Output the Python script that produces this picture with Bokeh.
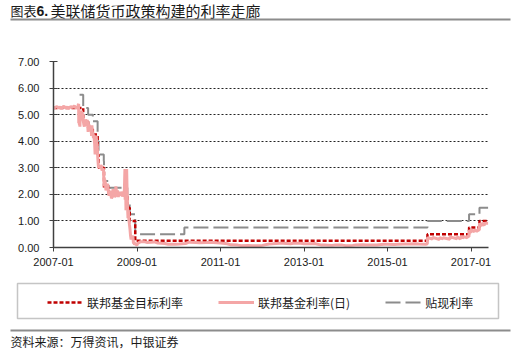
from datetime import datetime
from bokeh.plotting import figure
from bokeh.layouts import column, row
from bokeh.models import (Range1d, FixedTicker, DatetimeTickFormatter, PrintfTickFormatter,
                          Label, BoxAnnotation, Legend, LegendItem)
from bokeh.embed import file_html
from bokeh.resources import INLINE

# ---------------- data ----------------
title_parts = ["图表", "6.", "美联储货币政策构建的利率走廊"]
source_text = "资料来源：万得资讯，中银证券"
y_unit = "(%)"
series_names = ["联邦基金目标利率", "联邦基金利率(日)", "贴现利率"]
x_tick_labels = ["2007-01", "2009-01", "2011-01", "2013-01", "2015-01", "2017-01"]
y_ticks = [0, 1, 2, 3, 4, 5, 6, 7]

target_dates = ["2007-01-01", "2007-09-18", "2007-10-31", "2007-12-11", "2008-01-22",
                "2008-01-30", "2008-03-18", "2008-04-30", "2008-10-08", "2008-10-29",
                "2008-12-16", "2015-12-17", "2016-12-15", "2017-03-16", "2017-05-31"]
target_vals = [5.25, 4.75, 4.50, 4.25, 3.50, 3.00, 2.25, 2.00, 1.50, 1.00,
               0.25, 0.50, 0.75, 1.00, 1.00]

discount_dates = ["2007-08-17", "2007-09-18", "2007-10-31", "2007-12-11", "2008-01-22",
                  "2008-01-30", "2008-03-16", "2008-03-18", "2008-04-30", "2008-10-08",
                  "2008-10-29", "2008-12-16", "2010-02-19", "2015-12-17", "2016-12-15",
                  "2017-03-16", "2017-05-31"]
discount_vals = [5.75, 5.25, 5.00, 4.75, 4.00, 3.50, 3.25, 2.50, 2.25, 1.75,
                 1.25, 0.50, 0.75, 1.00, 1.25, 1.50, 1.50]

effr_dates = ["2007-01-02", "2007-01-16", "2007-02-01", "2007-02-15", "2007-03-01", "2007-03-15",
              "2007-04-02", "2007-04-16", "2007-05-01", "2007-05-15", "2007-06-01", "2007-06-15",
              "2007-07-02", "2007-07-16", "2007-08-01", "2007-08-06", "2007-08-09", "2007-08-10",
              "2007-08-13", "2007-08-14", "2007-08-16", "2007-08-17", "2007-08-20", "2007-08-23",
              "2007-08-27", "2007-08-31", "2007-09-04", "2007-09-07", "2007-09-12", "2007-09-17",
              "2007-09-19", "2007-09-24", "2007-09-28", "2007-10-02", "2007-10-05", "2007-10-10",
              "2007-10-15", "2007-10-19", "2007-10-24", "2007-10-31", "2007-11-01", "2007-11-07",
              "2007-11-13", "2007-11-19", "2007-11-26", "2007-11-30", "2007-12-03", "2007-12-07",
              "2007-12-12", "2007-12-17", "2007-12-20", "2007-12-27", "2007-12-31", "2008-01-04",
              "2008-01-10", "2008-01-15", "2008-01-18", "2008-01-23", "2008-01-28", "2008-01-31",
              "2008-02-06", "2008-02-12", "2008-02-19", "2008-02-25", "2008-02-29", "2008-03-05",
              "2008-03-10", "2008-03-14", "2008-03-19", "2008-03-25", "2008-03-31", "2008-04-04",
              "2008-04-08", "2008-04-14", "2008-04-21", "2008-04-25", "2008-05-01", "2008-05-08",
              "2008-05-15", "2008-05-22", "2008-05-30", "2008-06-05", "2008-06-12", "2008-06-19",
              "2008-06-26", "2008-06-30", "2008-07-07", "2008-07-14", "2008-07-21", "2008-07-28",
              "2008-08-04", "2008-08-11", "2008-08-18", "2008-08-25", "2008-09-02", "2008-09-09",
              "2008-09-12", "2008-09-15", "2008-09-17", "2008-09-19", "2008-09-23", "2008-09-26",
              "2008-09-30", "2008-10-02", "2008-10-06", "2008-10-09", "2008-10-14", "2008-10-17",
              "2008-10-22", "2008-10-27", "2008-10-31", "2008-11-05", "2008-11-10", "2008-11-14",
              "2008-11-19", "2008-11-25", "2008-12-01", "2008-12-05", "2008-12-10", "2008-12-16",
              "2008-12-22", "2008-12-31", "2009-01-05", "2009-02-02", "2009-03-02", "2009-04-01",
              "2009-06-01", "2009-07-01", "2009-09-01", "2009-10-01", "2009-12-01", "2010-01-04",
              "2010-03-01", "2010-04-01", "2010-06-01", "2010-07-01", "2010-09-01", "2010-10-01",
              "2010-12-01", "2011-01-03", "2011-03-01", "2011-04-01", "2011-06-01", "2011-07-01",
              "2011-09-01", "2011-10-03", "2011-12-01", "2012-01-03", "2012-03-01", "2012-04-02",
              "2012-06-01", "2012-07-02", "2012-09-04", "2012-10-01", "2012-12-03", "2013-01-02",
              "2013-03-01", "2013-04-01", "2013-06-03", "2013-07-01", "2013-09-03", "2013-10-01",
              "2013-12-02", "2014-01-02", "2014-03-03", "2014-04-01", "2014-06-02", "2014-07-01",
              "2014-09-02", "2014-10-01", "2014-12-01", "2015-01-02", "2015-03-02", "2015-04-01",
              "2015-06-01", "2015-07-01", "2015-09-01", "2015-10-01", "2015-12-01", "2015-12-16",
              "2015-12-17", "2016-01-29", "2016-02-01", "2016-03-31", "2016-04-01", "2016-04-29",
              "2016-05-02", "2016-06-30", "2016-07-01", "2016-08-31", "2016-09-01", "2016-09-30",
              "2016-10-03", "2016-10-31", "2016-11-01", "2016-11-30", "2016-12-01", "2016-12-14",
              "2016-12-15", "2016-12-30", "2017-01-03", "2017-01-31", "2017-02-01", "2017-02-28",
              "2017-03-01", "2017-03-15", "2017-03-16", "2017-03-31", "2017-04-03", "2017-04-28",
              "2017-05-01", "2017-05-31"]
effr_vals = [5.24, 5.27, 5.30, 5.25, 5.28, 5.24,
             5.32, 5.25, 5.28, 5.24, 5.30, 5.27,
             5.33, 5.25, 5.28, 5.38, 5.40, 4.68,
             5.05, 4.80, 4.60, 5.02, 4.55, 4.95,
             5.10, 4.78, 5.15, 4.90, 5.05, 4.85,
             4.75, 4.62, 4.55, 4.78, 4.66, 4.82,
             4.72, 4.58, 4.80, 4.35, 4.50, 4.62,
             4.55, 4.40, 4.48, 4.20, 4.60, 4.35,
             4.30, 4.12, 4.25, 3.90, 3.50, 4.10,
             4.20, 3.85, 3.90, 3.40, 3.10, 3.00,
             3.05, 2.98, 3.10, 3.05, 2.90, 2.92,
             2.98, 2.85, 2.30, 2.55, 2.40, 2.15,
             2.20, 2.38, 2.35, 2.10, 1.95, 2.12,
             2.05, 1.85, 1.92, 2.20, 2.05, 1.90,
             1.95, 2.30, 2.00, 2.15, 1.90, 2.10,
             1.95, 2.08, 2.05, 1.92, 2.00, 2.12,
             2.10, 2.65, 2.95, 1.80, 2.40, 1.40,
             1.55, 2.95, 2.10, 1.60, 1.10, 1.40,
             1.05, 0.85, 0.70, 0.45, 0.30, 0.45,
             0.30, 0.45, 0.15, 0.22, 0.10, 0.15,
             0.12, 0.08, 0.15, 0.22, 0.22, 0.19,
             0.21, 0.17, 0.15, 0.12, 0.12, 0.13,
             0.15, 0.20, 0.19, 0.18, 0.19, 0.20,
             0.18, 0.17, 0.14, 0.10, 0.09, 0.07,
             0.08, 0.07, 0.07, 0.08, 0.13, 0.14,
             0.16, 0.16, 0.14, 0.16, 0.16, 0.14,
             0.14, 0.15, 0.09, 0.09, 0.08, 0.09,
             0.09, 0.07, 0.08, 0.09, 0.10, 0.09,
             0.09, 0.09, 0.12, 0.12, 0.11, 0.12,
             0.13, 0.13, 0.14, 0.13, 0.12, 0.14,
             0.37, 0.32, 0.38, 0.30, 0.37, 0.33,
             0.37, 0.31, 0.40, 0.33, 0.40, 0.32,
             0.40, 0.36, 0.41, 0.36, 0.41, 0.41,
             0.66, 0.55, 0.66, 0.60, 0.66, 0.61,
             0.66, 0.66, 0.91, 0.80, 0.91, 0.84,
             0.91, 0.91]

# ---------------- helpers ----------------
def d(s):
    return datetime.strptime(s, "%Y-%m-%d")

def steps(dates, vals):
    xs, ys = [], []
    for i, (dt, v) in enumerate(zip(dates, vals)):
        if i > 0:
            xs.append(d(dt)); ys.append(vals[i - 1])
        xs.append(d(dt)); ys.append(v)
    return xs, ys

CJK = "Noto Sans CJK SC"
LAT = "Liberation Sans"
W = 519
H_HEAD, H_MAIN, H_FOOT = 30, 240, 81
FL, FT, FR, FB = 53, 61, 488, 247   # frame edges in full-page px


def blank(h):
    f = figure(width=W, height=h, output_backend="svg", toolbar_location=None,
               x_range=Range1d(0, W), y_range=Range1d(h, 0),
               x_axis_location=None, y_axis_location=None,
               min_border_left=0, min_border_right=0, min_border_top=0, min_border_bottom=0)
    f.outline_line_color = None
    f.xgrid.visible = False
    f.ygrid.visible = False
    return f


def lab(f, text, x, y, font=CJK, size="13px", style="normal", align="left"):
    f.add_layout(Label(x=x, y=y, text=text, text_font=font, text_font_size=size,
                       text_font_style=style, text_color="#1a1a1a",
                       text_baseline="middle", text_align=align))

# ---------------- header ----------------
head = blank(H_HEAD)
lab(head, title_parts[0], 10, 10, size="13px")
lab(head, title_parts[1], 36, 10, font=LAT, size="14px", style="bold")
lab(head, title_parts[2], 50, 10, size="15px")
head.add_layout(BoxAnnotation(left=10, right=510, top=18, bottom=20,
                              fill_color="#8c8c8c", fill_alpha=1, line_color=None))

# ---------------- main chart ----------------
p = figure(width=W, height=H_MAIN, x_axis_type="datetime", output_backend="svg",
           toolbar_location=None,
           x_range=Range1d(d("2007-01-01"), d("2017-06-03")), y_range=Range1d(0, 7),
           min_border_left=FL, min_border_right=W - FR, min_border_top=FT - H_HEAD,
           min_border_bottom=H_HEAD + H_MAIN - FB)
p.outline_line_color = None

tick_ms = [d(t + "-01").timestamp() * 1000 for t in x_tick_labels]
p.xaxis.ticker = FixedTicker(ticks=tick_ms)
p.xaxis.formatter = DatetimeTickFormatter(years="%Y-%m", months="%Y-%m", days="%Y-%m")
p.yaxis.ticker = FixedTicker(ticks=y_ticks)
p.yaxis.formatter = PrintfTickFormatter(format="%.2f")
for ax in (p.xaxis, p.yaxis):
    ax.axis_line_color = "#404040"
    ax.axis_line_width = 1.5
    ax.major_tick_line_color = "#404040"
    ax.major_tick_in = 0
    ax.major_tick_out = 4
    ax.minor_tick_line_color = None
    ax.major_label_text_font = LAT
    ax.major_label_text_font_size = "11px"
    ax.major_label_text_color = "#1a1a1a"
p.yaxis.major_tick_in = 4
p.xaxis.major_label_standoff = 6
p.yaxis.major_label_standoff = 10
p.xgrid.grid_line_color = None
p.ygrid.grid_line_color = "#222222"
p.ygrid.grid_line_dash = "2 2"
p.ygrid.grid_line_width = 1

tx, ty = steps(target_dates, target_vals)
dx, dy = steps(discount_dates, discount_vals)
ex = [d(s) for s in effr_dates]

line_styles = [dict(line_color="#c00000", line_width=2.5, line_dash="4 2"),
               dict(line_color="#f4a6a6", line_width=3),
               dict(line_color="#8c8c8c", line_width=2, line_dash="15 5")]

p.line(dx, dy, **line_styles[2])
p.line(tx, ty, **line_styles[0])
p.line(ex, effr_vals, **line_styles[1])

p.add_layout(Label(x=-9, y=FB - 42, x_units="screen", y_units="screen", text=y_unit,
                   text_font=LAT, text_font_size="11px", text_color="#1a1a1a",
                   text_baseline="middle", text_align="center"))

# ---------------- footer: legend + source ----------------
foot = blank(H_FOOT)
off = H_HEAD + H_MAIN
keys = [foot.line([float("nan")], [float("nan")], **st) for st in line_styles]
legend = Legend(items=[LegendItem(label=n, renderers=[r]) for n, r in zip(series_names, keys)],
                orientation="horizontal", location=(47, H_FOOT - (312 - off)),
                padding=0, margin=0, spacing=35, glyph_width=36, glyph_height=20,
                label_height=20, label_width=0, label_standoff=4,
                label_text_font=CJK, label_text_font_size="12px",
                label_text_color="#1a1a1a", border_line_color=None,
                background_fill_alpha=0)
foot.add_layout(legend)
foot.add_layout(BoxAnnotation(left=17, right=498, top=283 - off, bottom=318 - off,
                              fill_alpha=0, line_color="#404040", line_width=1.5))
foot.add_layout(BoxAnnotation(left=10, right=510, top=329 - off, bottom=331 - off,
                              fill_color="#8c8c8c", fill_alpha=1, line_color=None))
lab(foot, source_text, 10, 341 - off, size="12px")

page = column(row(head), p, row(foot), spacing=0)
open("out.html", "w").write(file_html(page, INLINE))
